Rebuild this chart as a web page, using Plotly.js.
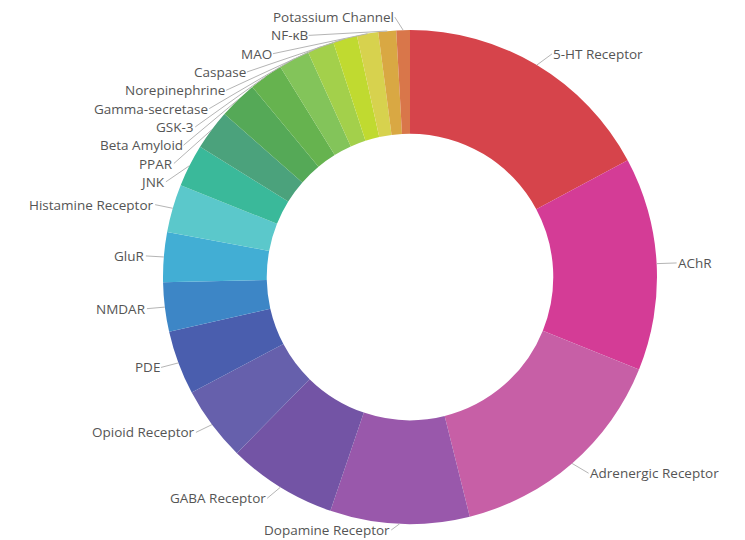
<!DOCTYPE html>
<html>
<head>
<meta charset="utf-8">
<script src="https://cdn.plot.ly/plotly-3.0.1.min.js"></script>
<style>html,body{margin:0;padding:0;background:#fff;}#chart{width:745px;height:540px;}</style>
</head>
<body>
<div id="chart"></div>
<script>
const labels = ["5-HT Receptor","AChR","Adrenergic Receptor","Dopamine Receptor","GABA Receptor","Opioid Receptor","PDE","NMDAR","GluR","Histamine Receptor","JNK","PPAR","Beta Amyloid","GSK-3","Gamma-secretase","Norepinephrine","Caspase","MAO","NF-κB","Potassium Channel"];
const values = [61.8,50.2,54.0,32.8,25.7,17.6,15.1,11.6,11.7,11.3,10.0,9.5,9.0,8.0,7.3,6.3,5.7,5.0,4.2,3.2];
const colors = ["#D6444B","#D43C96","#C75FA6","#9958AB","#7354A5","#6660AC","#4A5EAE","#3D86C6","#42AED4","#5BC8CB","#3AB99A","#4BA27C","#55A957","#66B34F","#83C45A","#A3D04B","#C0DA30","#D7D24E","#D9A843","#D9764A"];

// plot geometry (pixels)
const W = 745, H = 540;
const M = {l: 163, r: 88, t: 30, b: 16};
const PW = W - M.l - M.r, PH = H - M.t - M.b;
const CX = M.l + PW / 2, CY = M.t + PH / 2, R = Math.min(PW, PH) / 2;
const toPx = (px) => (px - M.l) / PW;
const toPy = (py) => (M.t + PH - py) / PH;

// label placement computed from the data (slice mid-angles)
const total = values.reduce((a, b) => a + b, 0);
let cum = 0;
const info = values.map((v, i) => {
  const mid = (cum + v / 2) / total * 2 * Math.PI;
  cum += v;
  const s = Math.sin(mid), c = Math.cos(mid);
  return {i, mid, s, c,
    rx: CX + R * s, ry: CY - R * c,
    nx: CX + (R + 10) * s, ny: CY - (R + 13) * c,
    right: s >= 0};
});
// left side: stack from the top downwards with a minimum spacing
const gapY = 18.3, RL = R + 15;
const left = info.filter(d => !d.right).sort((a, b) => b.mid - a.mid);
let prevY = -1e9;
left.forEach(d => {
  let y = d.ny;
  if (y < prevY + gapY) { y = prevY + gapY; d.pushed = true; }
  d.ly = Math.min(y, H - 10);
  prevY = y;
  if (d.pushed) {
    const dy = CY - d.ly;
    d.lx = CX - Math.sqrt(Math.max(RL * RL - dy * dy, 0));
  } else {
    d.lx = d.nx - 8;
  }
});
info.filter(d => d.right).forEach(d => {
  d.ly = Math.min(d.ny, H - 10);
  d.lx = d.nx + 10;
});

const annotations = info.map(d => ({
  xref: "paper", yref: "paper",
  x: toPx(d.rx), y: toPy(d.ry),
  ax: d.lx - d.rx, ay: d.ly - d.ry,
  axref: "pixel", ayref: "pixel",
  text: labels[d.i],
  showarrow: true, arrowhead: 0, arrowwidth: 1, arrowcolor: "#b5b5b5",
  standoff: 0, startstandoff: 0,
  xanchor: d.right ? "left" : "right", yanchor: "middle",
  borderpad: 0,
  font: {family: "Open Sans, sans-serif", size: 13.5, color: "#555"}
}));

const trace = {
  type: "pie",
  labels: labels,
  values: values,
  hole: 0.58,
  sort: false,
  direction: "clockwise",
  rotation: 0,
  textinfo: "none",
  marker: {colors: colors, line: {width: 0}},
  hoverinfo: "none",
  automargin: false
};
const layout = {
  width: W, height: H,
  margin: M,
  showlegend: false,
  paper_bgcolor: "#fff",
  plot_bgcolor: "#fff",
  annotations: annotations
};
Plotly.newPlot("chart", [trace], layout, {displayModeBar: false, staticPlot: true});
</script>
</body>
</html>
